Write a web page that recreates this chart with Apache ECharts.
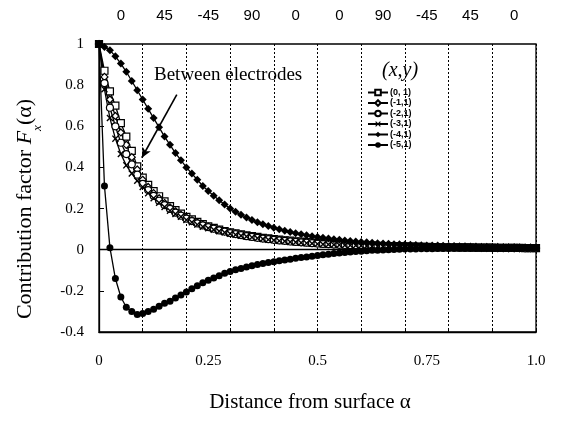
<!DOCTYPE html>
<html>
<head>
<meta charset="utf-8">
<script src="https://cdn.jsdelivr.net/npm/echarts@6/dist/echarts.min.js"></script>
<style>html,body{margin:0;padding:0;background:#fff}#c{width:568px;height:421px}</style>
</head>
<body>
<div id="c"></div>
<script>
// alpha grid: 0 .. 1 in steps of 0.0125 (81 points)
const alphaStep = 0.0125;
const plyLabels = ['0','45','-45','90','0','0','90','-45','45','0'];
const xTickLabels = ['0','0.25','0.5','0.75','1.0'];
const seriesNames = ['(0, 1)','(-1,1)','(-2,1)','(-3,1)','(-4,1)','(-5,1)'];

const s0_1 = [1.0,0.87,0.77,0.70,0.615,0.55,0.48,0.405,0.35,0.315,0.285,0.26,0.235,0.212,0.192,0.175,0.16,0.147,0.135,0.124,0.114,0.106,0.098,0.091,
 0.085,0.080,0.075,0.070,0.066,0.062,0.058,0.055,0.052,0.049,0.046,0.044,0.041,0.039,0.037,0.035,0.033,0.031,0.030,0.028,0.027,0.026,0.024,0.023,0.022,
 0.021,0.020,0.019,0.018,0.018,0.017,0.016,0.016,0.015,0.015,0.014,0.014,0.013,0.013,0.012,0.012,0.012,0.011,0.011,0.011,0.010,0.010,0.010,0.010,
 0.009,0.009,0.009,0.009,0.009,0.008,0.008,0.008];
const sm1_1 = [1.0,0.84,0.73,0.65,0.57,0.51,0.45,0.39,0.34,0.305,0.275,0.25,0.227,0.206,0.187,0.17,0.156,0.143,0.131,0.121,0.112,0.104,0.096,0.089,
 0.083,0.078,0.073,0.068,0.064,0.060,0.056,0.053,0.050,0.047,0.044,0.042,0.039,0.037,0.035,0.033,0.031,0.030,0.028,0.027,0.025,0.024,0.023,0.022,0.021,
 0.020,0.019,0.018,0.017,0.017,0.016,0.015,0.015,0.014,0.014,0.013,0.013,0.012,0.012,0.012,0.011,0.011,0.011,0.010,0.010,0.010,0.009,0.009,0.009,
 0.009,0.009,0.008,0.008,0.008,0.008,0.008,0.008];
const sm2_1 = [1.0,0.81,0.69,0.60,0.52,0.465,0.415,0.365,0.32,0.29,0.262,0.238,0.217,0.198,0.18,0.165,0.151,0.139,0.128,0.118,0.11,0.102,0.094,0.088,
 0.081,0.076,0.071,0.066,0.062,0.058,0.054,0.051,0.048,0.045,0.043,0.040,0.038,0.036,0.034,0.032,0.030,0.028,0.027,0.025,0.024,0.023,0.022,0.021,0.020,
 0.019,0.018,0.017,0.017,0.016,0.015,0.015,0.014,0.014,0.013,0.013,0.012,0.012,0.011,0.011,0.011,0.010,0.010,0.010,0.009,0.009,0.009,0.009,0.008,
 0.008,0.008,0.008,0.008,0.008,0.007,0.007,0.007];
const sm3_1 = [1.0,0.78,0.64,0.54,0.465,0.41,0.37,0.335,0.305,0.275,0.25,0.228,0.208,0.19,0.174,0.16,0.145,0.133,0.122,0.112,0.104,0.097,0.09,0.084,
 0.078,0.073,0.068,0.064,0.060,0.056,0.052,0.049,0.046,0.043,0.041,0.038,0.036,0.034,0.032,0.030,0.028,0.027,0.025,0.024,0.023,0.022,0.021,0.020,0.019,
 0.018,0.017,0.016,0.016,0.015,0.014,0.014,0.013,0.013,0.012,0.012,0.011,0.011,0.011,0.010,0.010,0.010,0.009,0.009,0.009,0.009,0.008,0.008,0.008,
 0.008,0.008,0.007,0.007,0.007,0.007,0.007,0.007];
const sm4_1 = [1.0,0.985,0.97,0.94,0.905,0.865,0.82,0.775,0.73,0.685,0.64,0.595,0.55,0.51,0.47,0.435,0.40,0.37,0.34,0.31,0.285,0.262,0.24,0.22,
 0.2,0.185,0.17,0.157,0.145,0.134,0.124,0.115,0.107,0.099,0.092,0.086,0.08,0.075,0.07,0.066,0.062,0.058,0.054,0.051,0.048,0.045,0.042,0.040,0.038,
 0.036,0.034,0.032,0.030,0.029,0.027,0.026,0.025,0.024,0.023,0.022,0.021,0.021,0.020,0.019,0.018,0.018,0.017,0.017,0.016,0.016,0.015,0.015,0.014,
 0.014,0.013,0.013,0.013,0.012,0.012,0.012,0.011];
const sm5_1 = [1.0,0.31,0.01,-0.14,-0.23,-0.28,-0.30,-0.315,-0.31,-0.30,-0.29,-0.275,-0.26,-0.25,-0.235,-0.22,-0.205,-0.19,-0.175,-0.16,-0.148,-0.137,-0.126,-0.115,
 -0.106,-0.098,-0.091,-0.084,-0.078,-0.072,-0.067,-0.062,-0.058,-0.054,-0.050,-0.046,-0.042,-0.038,-0.035,-0.032,-0.028,-0.025,-0.022,-0.019,-0.016,-0.013,-0.011,-0.009,-0.007,
 -0.005,-0.003,-0.002,-0.001,0.0,0.001,0.002,0.003,0.004,0.004,0.005,0.005,0.005,0.006,0.006,0.006,0.007,0.007,0.007,0.007,0.008,0.008,0.008,0.008,
 0.008,0.008,0.009,0.009,0.009,0.009,0.009,0.009];

const allValues = [s0_1, sm1_1, sm2_1, sm3_1, sm4_1, sm5_1];
const crossPath = 'path://M0,1.4L1.4,0L5,3.6L8.6,0L10,1.4L6.4,5L10,8.6L8.6,10L5,6.4L1.4,10L0,8.6L3.6,5Z';
const symbols = ['rect','diamond','circle',crossPath,'diamond','circle'];
const filled = [false,false,false,true,true,true];
const sizes = [7,7,7,7,8,7];

const serif = '"Liberation Serif","Times New Roman",serif';
const sans = '"Liberation Sans",Arial,sans-serif';

function pairs(vals){ return vals.map((v,i)=>[+(i*alphaStep).toFixed(4), v]); }

const series = seriesNames.map((name, k) => ({
  name: name,
  type: 'line',
  xAxisIndex: 0,
  data: pairs(allValues[k]),
  symbol: symbols[k],
  symbolSize: sizes[k],
  showAllSymbol: true,
  lineStyle: {color:'#000', width:1.3},
  itemStyle: {color: filled[k] ? '#000' : '#fff', borderColor:'#000', borderWidth: filled[k] ? 0 : 1.2},
  emphasis: {disabled:true},
  animation: false,
  z: 3
}));
series[4].markLine = {
  silent: true, animation:false,
  symbol: ['none','none'],
  label: {show:false},
  lineStyle: {color:'#000', type:'solid', width:1.3},
  data: [ {yAxis: 0} ]
};
series[5].markLine = {
  silent: true, animation:false,
  symbol: ['none','arrow'], symbolSize: [7,10],
  label: {show:false},
  lineStyle: {color:'#000', type:'solid', width:1.6},
  data: [ [ {coord:[0.178,0.754]}, {coord:[0.098,0.447]} ] ]
};

const chart = echarts.init(document.getElementById('c'), null, {renderer:'canvas'});
chart.setOption({
  animation: false,
  backgroundColor: '#fff',
  grid: {left:99, right:32, top:44, bottom:89, show:true, borderColor:'#000', borderWidth:1.3, backgroundColor:'transparent'},
  xAxis: [
    {type:'value', min:0, max:1, interval:0.25, position:'bottom',
     axisLine:{show:true, onZero:false, lineStyle:{color:'#000', width:1.3}},
     axisTick:{show:false}, splitLine:{show:false},
     axisLabel:{color:'#000', fontFamily:serif, fontSize:15, margin:22,
       formatter: v => xTickLabels[Math.round(v/0.25)]}},
    {type:'value', min:0, max:1, interval:0.1, position:'bottom',
     axisLine:{show:false, onZero:false}, axisLabel:{show:false},
     axisTick:{show:true, inside:true, length:4, lineStyle:{color:'#000'}},
     splitLine:{show:true, lineStyle:{color:'#000', type:[2,2], width:1}}},
    {type:'category', data: plyLabels, position:'top', boundaryGap:true,
     axisLine:{show:false}, axisTick:{show:false}, splitLine:{show:false},
     axisLabel:{color:'#000', fontFamily:sans, fontSize:15, margin:21, interval:0}}
  ],
  yAxis: {type:'value', min:-0.4, max:1, interval:0.2,
    axisLine:{show:true, onZero:false, lineStyle:{color:'#000', width:1.3}},
    axisTick:{show:true, inside:true, length:5, lineStyle:{color:'#000'}},
    splitLine:{show:false},
    axisLabel:{color:'#000', fontFamily:serif, fontSize:15, margin:15,
      formatter: v => { const r = Math.round(v*10)/10; return (r===0||r===1) ? String(r) : r.toFixed(1); }}},
  legend: {
    left: 367, top: 88, orient:'vertical', padding:0, itemGap: 1.5, itemWidth: 20, itemHeight: 7,
    textStyle:{fontFamily:sans, fontSize:9, fontWeight:'bold', color:'#000', lineHeight:8, padding:[0,0,0,-3]},
    data: seriesNames, selectedMode:false, inactiveColor:'#000'
  },
  graphic: [
    {type:'text', left:154, top:66, silent:true,
     style:{text:'Between electrodes', font:'19px ' + serif, fill:'#000'}},
    {type:'text', left:382, top:61, silent:true,
     style:{text:'(x,y)', font:'italic 20px ' + serif, fill:'#000'}},
    {type:'text', x:310, y:402, silent:true,
     style:{text:'Distance from surface α', font:'21px ' + serif, fill:'#000', textAlign:'center', textVerticalAlign:'middle'}},
    {type:'text', x:25, y:209, rotation:Math.PI/2, silent:true,
     style:{text:'{a|Contribution factor }{i|F}{s|x}{a|(α)}', textAlign:'center', textVerticalAlign:'middle',
       rich:{a:{font:'22px ' + serif, fill:'#000', verticalAlign:'middle', lineHeight:26},
             i:{font:'italic 22px ' + serif, fill:'#000', verticalAlign:'middle', lineHeight:26},
             s:{font:'italic 13px ' + serif, fill:'#000', verticalAlign:'bottom', lineHeight:26, padding:[0,0,-6,0]}}}}
  ],
  series: series
});
</script>
</body>
</html>
